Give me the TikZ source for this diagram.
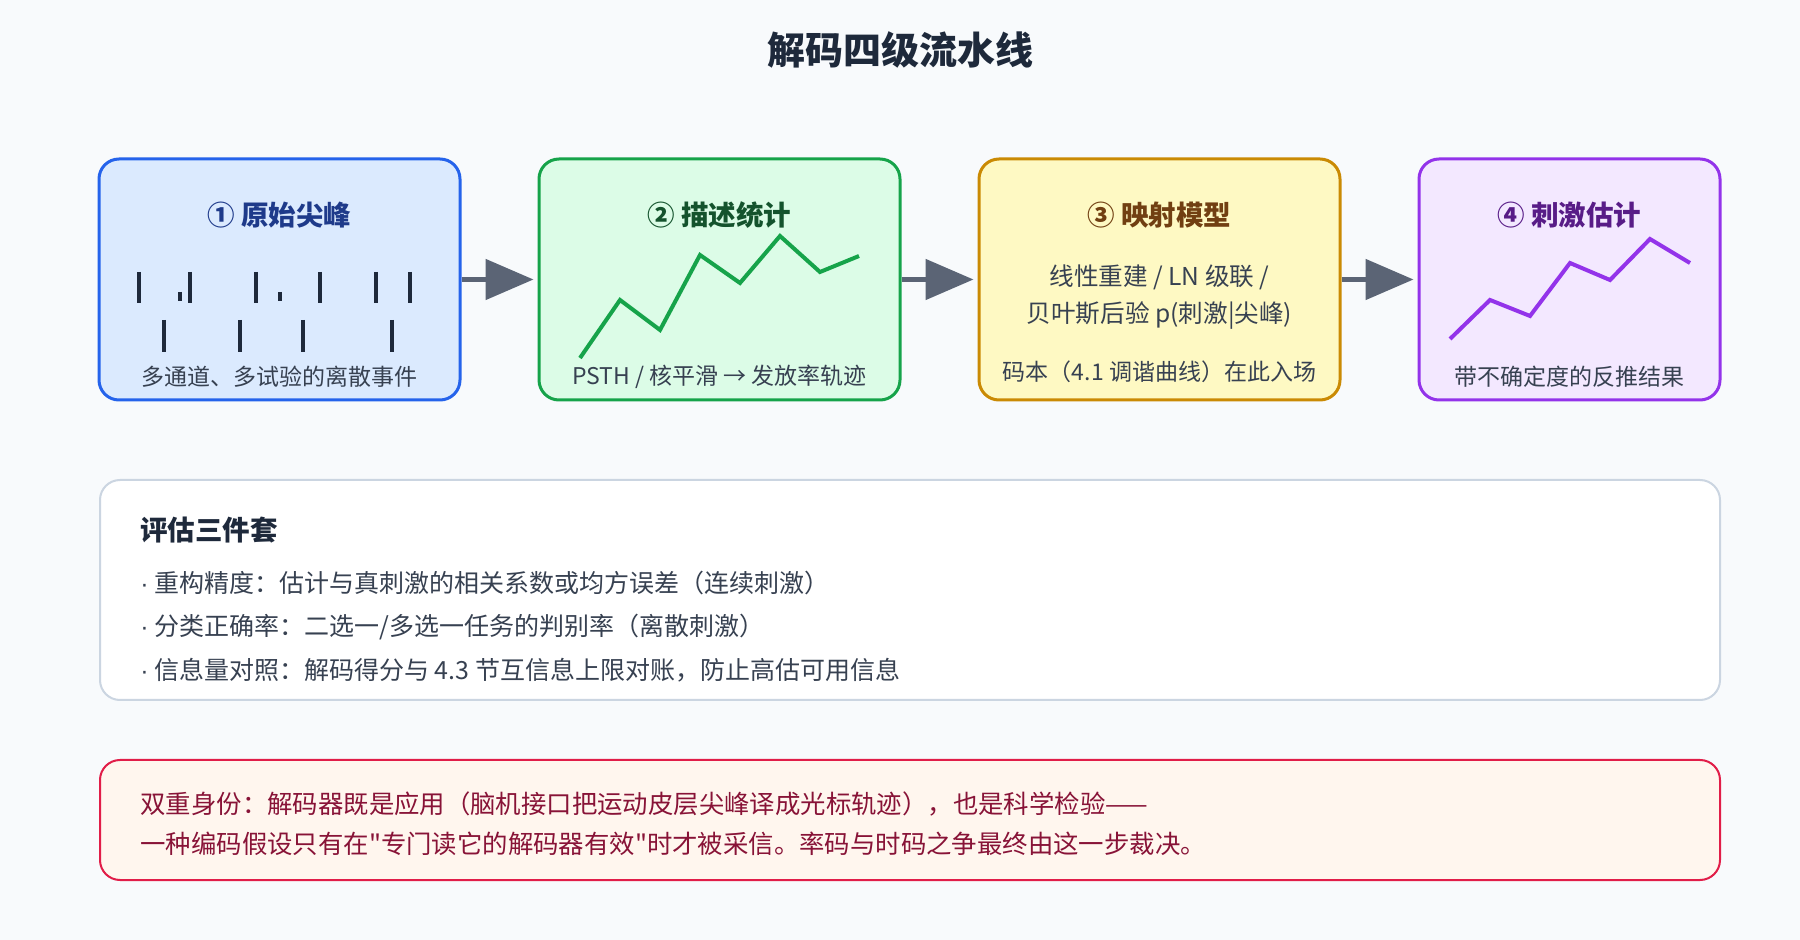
\documentclass[tikz,border=0pt]{standalone}
\usepackage{fontspec}
\setmainfont{Noto Sans CJK SC}
\newfontfamily\qfont{Noto Sans CJK SC}
\newfontfamily\dotfont{Liberation Sans}
\usetikzlibrary{arrows.meta}
\definecolor{bgc}{HTML}{F8FAFC}
\definecolor{titlec}{HTML}{1E293B}
\definecolor{arrowc}{HTML}{5B6475}
\definecolor{textc}{HTML}{374151}
\definecolor{bfill}{HTML}{DBEAFE}\definecolor{bdraw}{HTML}{2563EB}\definecolor{btext}{HTML}{1E3A8A}
\definecolor{gfill}{HTML}{DCFCE7}\definecolor{gdraw}{HTML}{16A34A}\definecolor{gtext}{HTML}{14532D}
\definecolor{yfill}{HTML}{FEF9C3}\definecolor{ydraw}{HTML}{CA8A04}\definecolor{ytext}{HTML}{713F12}
\definecolor{pfill}{HTML}{F3E8FF}\definecolor{pdraw}{HTML}{9333EA}\definecolor{ptext}{HTML}{581C87}
\definecolor{evdraw}{HTML}{CBD5E1}
\definecolor{rfill}{HTML}{FFF6EE}\definecolor{rdraw}{HTML}{E11D48}\definecolor{rtext}{HTML}{881337}
\newcommand{\bul}{{\dotfont ·} }
\newcommand{\sq}{{\qfont"}}
\tikzset{
  stagebox/.style={draw, line width=1.5pt, rounded corners=10pt, minimum height=120.5pt, inner sep=0pt},
  stagetitle/.style={inner sep=0pt, font=\fontsize{13.75}{16}\selectfont\bfseries},
  subtext/.style={inner sep=0pt, text=textc, font=\fontsize{11.5}{14}\selectfont},
  bodytext/.style={inner sep=0pt, text=textc, font=\fontsize{12.3}{14}\selectfont},
  conn/.style={draw=arrowc, line width=2.5pt, -{Triangle[length=24pt,width=20pt]}, shorten >=2pt},
  spike/.style={draw=titlec, line width=2pt},
  trace/.style={line width=2pt, line join=miter},
  wide/.style={rounded corners=10pt, minimum width=810pt},
  evline/.style={inner sep=0pt, anchor=west, text=textc, font=\fontsize{12.5}{15}\selectfont},
  redline/.style={inner sep=0pt, anchor=west, text=rtext, font=\fontsize{12.7}{15}\selectfont}
}
\begin{document}
\begin{tikzpicture}[x=0.5pt,y=-0.5pt]
\fill[bgc] (0,0) rectangle (1800,940);
\useasboundingbox (0,0) rectangle (1800,940);

\node[inner sep=0pt, text=titlec, font=\fontsize{19}{22}\selectfont\bfseries] (title) at (900,50) {解码四级流水线};

% stage boxes
\node[stagebox, fill=bfill, draw=bdraw, minimum width=180.5pt] (b1) at (279.5,279.5) {};
\node[stagebox, fill=gfill, draw=gdraw, minimum width=180.5pt] (b2) at (719.5,279.5) {};
\node[stagebox, fill=yfill, draw=ydraw, minimum width=180.5pt] (b3) at (1159.5,279.5) {};
\node[stagebox, fill=pfill, draw=pdraw, minimum width=150.5pt] (b4) at (1569.5,279.5) {};

\draw[conn] (b1.east) -- (b2.west);
\draw[conn] (b2.east) -- (b3.west);
\draw[conn] (b3.east) -- (b4.west);

% box 1
\node[stagetitle, text=btext] (t1) at (279.5,215) {① 原始尖峰};
\foreach \x in {139,190,256,320,376,410} \draw[spike] (\x,272) -- (\x,303);
\foreach \x in {180,280} \draw[spike] (\x,292) -- (\x,301);
\foreach \x in {164,240,303,392} \draw[spike] (\x,320) -- (\x,352);
\node[subtext] (s1) at (279.5,377) {多通道、多试验的离散事件};

% box 2
\node[stagetitle, text=gtext] (t2) at (719.5,215) {② 描述统计};
\draw[trace, gdraw] (580,358) -- (620,300) -- (660,330) -- (700,255) -- (740,283) -- (780,236) -- (820,272) -- (859,256);
\node[subtext] (s2) at (719.5,377) {PSTH / 核平滑 → 发放率轨迹};

% box 3
\node[stagetitle, text=ytext] (t3) at (1159.5,215) {③ 映射模型};
\node[bodytext] (m3a) at (1159.5,277) {线性重建 / LN 级联 /};
\node[bodytext] (m3b) at (1159.5,316) {贝叶斯后验 p(刺激|尖峰)};
\node[subtext] (s3) at (1159.5,372) {码本（4.1 调谐曲线）在此入场};

% box 4
\node[stagetitle, text=ptext] (t4) at (1569.5,215) {④ 刺激估计};
\draw[trace, pdraw] (1450,339) -- (1490,300) -- (1530,316) -- (1570,263) -- (1610,280) -- (1650,239) -- (1690,263);
\node[subtext] (s4) at (1569.5,377) {带不确定度的反推结果};

% evaluation box
\node[wide, draw=evdraw, fill=white, line width=1pt, minimum height=110pt] (ev) at (910,590) {};
\node[inner sep=0pt, anchor=west, text=titlec, font=\fontsize{13.75}{16}\selectfont\bfseries] (evt) at (140,530) {评估三件套};
\node[evline] (ev1) at (140,583) {\bul 重构精度：估计与真刺激的相关系数或均方误差（连续刺激）};
\node[evline] (ev2) at (140,627) {\bul 分类正确率：二选一/多选一任务的判别率（离散刺激）};
\node[evline] (ev3) at (140,670) {\bul 信息量对照：解码得分与 4.3 节互信息上限对账，防止高估可用信息};

% dual identity box
\node[wide, draw=rdraw, fill=rfill, line width=1pt, minimum height=60pt] (rb) at (910,820) {};
\node[redline] (r1) at (140,804) {双重身份：解码器既是应用（脑机接口把运动皮层尖峰译成光标轨迹），也是科学检验——};
\node[redline] (r2) at (140,844) {一种编码假设只有在\sq 专门读它的解码器有效\sq 时才被采信。率码与时码之争最终由这一步裁决。};
\end{tikzpicture}
\end{document}
